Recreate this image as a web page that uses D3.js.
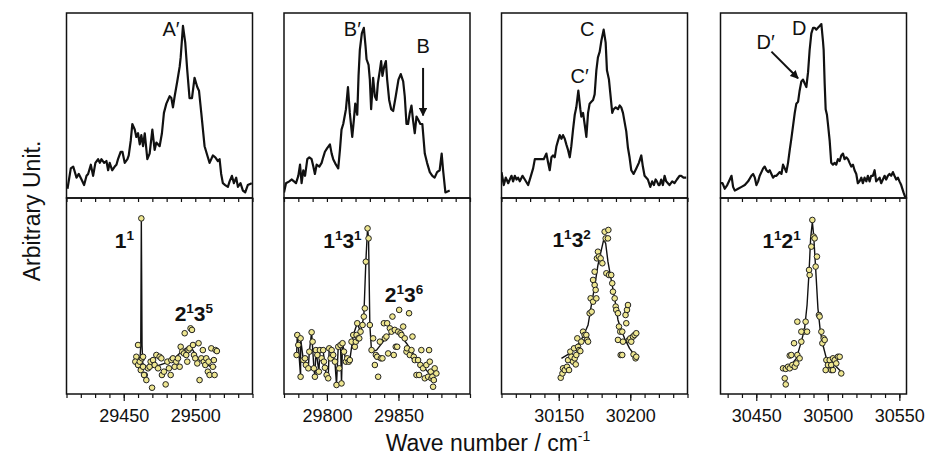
<!DOCTYPE html>
<html>
<head>
<meta charset="utf-8">
<script src="https://cdn.jsdelivr.net/npm/d3@7"></script>
<style>
  html, body { margin: 0; padding: 0; background: #ffffff; }
  svg { display: block; }
  text { font-family: "Liberation Sans", Arial, Helvetica, sans-serif; fill: #111; }
</style>
</head>
<body>
<svg id="chart" width="927" height="460"></svg>
<script>
// ---------------- DATA ----------------
// Wave-number windows of the four columns (cm^-1)
const xDomains = [[29410, 29540], [29770, 29900], [30110, 30240], [30425, 30555]];
// Labelled tick values per column
const tickLabels = [[29450, 29500], [29800, 29850], [30150, 30200], [30450, 30500, 30550]];

// Top row: measured spectra [wave number, intensity]
const specA = [[29410.7,5],[29413.0,16],[29414.7,17],[29417.0,11],[29418.6,13],[29420.5,10],[29422.3,7],[29424.0,12],[29425.1,13],[29427.0,18],[29428.6,12],[29430.2,19],[29432.1,21],[29433.3,19],[29434.4,21],[29436.3,19],[29437.9,20],[29439.1,15],[29440.2,19],[29441.9,15],[29443.7,17],[29444.9,18],[29446.0,21],[29447.9,25],[29449.1,25],[29450.7,19],[29452.6,21],[29453.5,23],[29454.9,31],[29456.0,40],[29457.7,37],[29458.8,33],[29460.0,35],[29461.2,29],[29462.3,34],[29463.5,28],[29464.7,35],[29466.5,21],[29468.1,24],[29470.0,37],[29471.6,26],[29472.8,30],[29475.1,28],[29476.7,35],[29478.1,46],[29479.8,51],[29482.1,55],[29483.3,54],[29484.4,49],[29485.6,55],[29487.4,63],[29489.1,71],[29489.8,76],[29491.4,93],[29493.0,84],[29494.4,69],[29496.0,54],[29497.7,54],[29499.5,65],[29501.4,60],[29502.6,58],[29504.2,46],[29506.5,28],[29508.8,22],[29510.0,19],[29512.3,23],[29514.0,22],[29515.8,20],[29517.0,21],[29518.1,13],[29519.3,8],[29520.9,7],[29522.8,6],[29524.0,9],[29525.6,12],[29527.0,8],[29528.6,11],[29529.8,6],[29531.6,8],[29533.3,4],[29534.9,3],[29536.7,7],[29539.5,8]];
const specB = [[29770.0,3],[29771.4,8],[29773.7,9],[29775.3,10],[29777.0,9],[29778.4,8],[29780.0,12],[29781.2,18],[29782.3,8],[29783.5,15],[29784.7,12],[29786.3,21],[29787.7,22],[29789.3,21],[29790.5,17],[29791.6,13],[29792.8,18],[29794.7,17],[29796.3,19],[29797.4,22],[29798.6,25],[29800.2,27],[29802.1,29],[29803.3,24],[29804.4,21],[29806.3,18],[29807.9,16],[29809.1,26],[29810.2,37],[29811.4,40],[29813.3,48],[29814.7,60],[29816.0,46],[29817.7,33],[29818.8,42],[29819.8,51],[29821.2,45],[29822.1,66],[29823.0,80],[29824.4,89],[29825.8,92],[29827.0,82],[29827.7,75],[29829.1,72],[29830.0,64],[29830.9,48],[29832.3,65],[29833.5,55],[29834.7,53],[29835.6,62],[29837.0,69],[29837.9,74],[29838.8,66],[29840.0,71],[29841.2,74],[29842.1,64],[29843.5,53],[29844.9,48],[29846.3,47],[29848.1,55],[29850.0,64],[29851.6,67],[29853.3,63],[29854.4,55],[29855.6,40],[29856.7,40],[29857.9,46],[29859.1,50],[29860.2,42],[29861.4,35],[29862.6,44],[29864.0,42],[29865.3,40],[29866.7,40],[29868.4,24],[29870.0,19],[29871.9,14],[29873.7,12],[29875.3,11],[29877.0,14],[29878.8,15],[29880.2,24],[29881.2,15],[29882.8,3],[29885.8,4]];
const specC = [[30110.0,14],[30111.6,7],[30113.0,11],[30114.7,8],[30115.8,10],[30117.0,12],[30118.1,9],[30119.3,12],[30120.5,10],[30121.6,11],[30122.8,9],[30124.7,12],[30126.3,10],[30128.6,7],[30130.2,11],[30132.1,16],[30133.3,21],[30135.6,21],[30137.9,21],[30139.5,21],[30141.4,24],[30142.6,19],[30143.7,15],[30144.9,22],[30146.0,23],[30147.2,22],[30148.4,28],[30149.5,31],[30150.7,34],[30151.9,32],[30153.0,34],[30154.2,32],[30155.3,29],[30156.5,26],[30157.7,22],[30158.8,28],[30160.0,37],[30161.2,45],[30162.3,49],[30163.7,58],[30165.1,48],[30165.8,44],[30167.0,46],[30168.1,40],[30169.3,33],[30170.5,46],[30171.6,51],[30172.8,52],[30174.0,53],[30175.1,56],[30176.3,69],[30177.4,76],[30178.6,79],[30179.8,85],[30181.4,91],[30182.8,84],[30183.7,69],[30185.1,64],[30186.0,57],[30187.4,46],[30188.4,48],[30189.8,49],[30191.4,48],[30192.6,50],[30193.7,49],[30194.9,46],[30197.2,36],[30198.4,27],[30199.5,22],[30200.7,15],[30202.3,13],[30204.2,16],[30206.0,19],[30207.7,23],[30208.8,17],[30210.0,12],[30212.3,10],[30214.0,6],[30215.3,9],[30216.5,7],[30217.7,10],[30218.6,9],[30219.8,7],[30220.5,7],[30221.6,10],[30222.8,7],[30224.0,12],[30225.1,9],[30226.3,8],[30227.4,7],[30229.3,9],[30230.9,8],[30232.6,10],[30234.4,12],[30235.6,12],[30237.2,11],[30239.1,11]];
const specD = [[30425.0,8],[30426.4,8],[30428.0,5],[30429.7,7],[30431.5,10],[30432.7,12],[30433.8,6],[30435.0,4],[30437.3,5],[30439.7,6],[30442.0,7],[30444.3,9],[30446.6,12],[30447.8,13],[30449.0,11],[30450.1,7],[30451.3,9],[30452.4,12],[30453.6,14],[30454.8,16],[30455.9,17],[30457.1,15],[30458.3,14],[30459.4,15],[30460.6,13],[30461.7,11],[30462.9,12],[30464.1,12],[30465.2,13],[30466.4,14],[30467.6,13],[30468.7,18],[30469.9,16],[30471.0,14],[30472.2,19],[30473.4,26],[30474.5,32],[30475.7,39],[30476.9,46],[30478.0,51],[30479.2,52],[30480.3,58],[30481.5,63],[30482.7,64],[30483.8,62],[30485.0,60],[30486.2,68],[30487.3,80],[30488.5,89],[30489.7,92],[30490.8,92],[30492.0,91],[30493.1,92],[30494.3,93],[30495.5,94],[30496.6,85],[30497.1,80],[30497.8,62],[30498.5,48],[30499.4,45],[30500.1,40],[30501.3,31],[30502.4,19],[30503.6,18],[30504.8,19],[30505.9,18],[30507.1,21],[30508.3,20],[30509.4,23],[30510.6,24],[30511.7,21],[30512.9,22],[30514.1,21],[30515.2,19],[30516.4,17],[30517.6,18],[30518.7,15],[30519.9,13],[30521.0,8],[30522.2,9],[30523.4,11],[30524.5,8],[30525.7,11],[30526.9,9],[30528.0,12],[30529.2,9],[30530.3,12],[30531.5,12],[30532.7,15],[30533.8,9],[30535.0,10],[30536.2,11],[30537.3,8],[30538.5,10],[30539.7,12],[30540.8,10],[30542.0,12],[30543.1,13],[30544.3,12],[30545.5,14],[30546.6,12],[30547.8,10],[30549.0,11],[30550.1,9],[30551.3,7],[30552.9,3],[30554.1,0.5]];

// Bottom row: measured points [wave number, intensity]
const ptsA = [[29462.3,89.6],[29460.0,25.0],[29458.8,19.0],[29458.1,16.5],[29460.0,14.8],[29461.2,16.5],[29462.8,18.2],[29463.5,19.0],[29461.9,12.2],[29463.5,13.9],[29464.7,9.7],[29465.8,7.1],[29464.2,9.7],[29467.0,13.1],[29468.1,13.9],[29469.8,3.2],[29468.8,16.5],[29470.5,17.3],[29471.6,14.8],[29472.8,19.9],[29474.0,13.1],[29475.1,19.0],[29476.3,18.2],[29476.7,9.7],[29478.1,11.4],[29479.3,4.9],[29480.5,16.5],[29481.6,13.1],[29482.8,9.7],[29483.3,17.3],[29484.4,18.2],[29485.6,13.9],[29486.7,16.5],[29487.9,18.2],[29489.1,13.9],[29489.8,24.1],[29490.9,21.6],[29492.6,31.0],[29492.1,20.7],[29493.7,19.9],[29494.4,16.5],[29495.3,22.4],[29496.0,23.3],[29496.7,33.5],[29497.7,32.7],[29498.4,25.0],[29499.1,19.9],[29500.0,18.2],[29501.4,15.6],[29502.3,25.9],[29503.0,7.1],[29504.2,18.2],[29505.3,22.4],[29506.0,16.5],[29507.0,14.8],[29507.7,18.2],[29508.8,11.4],[29509.3,16.5],[29510.0,9.7],[29511.2,23.3],[29512.3,13.9],[29513.0,17.3],[29513.5,9.7],[29514.2,22.4],[29515.1,21.9]];
const ptsB = [[29779.3,30.1],[29778.8,19.9],[29780.0,25.0],[29781.6,28.4],[29781.6,8.8],[29783.5,17.3],[29784.7,18.2],[29785.3,14.8],[29787.0,13.1],[29787.7,21.6],[29789.3,31.5],[29790.0,26.7],[29790.9,13.1],[29791.6,8.8],[29792.3,22.4],[29793.3,19.9],[29794.4,11.4],[29795.1,22.4],[29796.3,18.2],[29797.4,22.4],[29797.9,16.5],[29798.6,13.4],[29799.8,9.7],[29800.9,8.0],[29801.6,23.3],[29802.6,18.2],[29803.3,22.4],[29804.4,19.9],[29805.6,16.5],[29806.7,4.6],[29807.9,24.1],[29808.6,13.1],[29809.5,25.0],[29810.2,5.4],[29810.9,25.9],[29811.9,21.6],[29813.3,16.5],[29814.2,18.2],[29815.3,16.5],[29816.0,17.3],[29817.2,26.7],[29818.4,30.1],[29819.5,24.1],[29820.2,26.7],[29820.7,30.1],[29821.2,36.1],[29821.9,28.4],[29822.6,28.4],[29823.5,31.8],[29824.9,35.2],[29825.8,39.5],[29826.5,43.7],[29827.2,67.5],[29828.4,84.5],[29829.1,79.4],[29830.0,35.2],[29831.2,22.4],[29832.3,28.4],[29833.5,14.8],[29834.2,19.9],[29835.1,19.0],[29835.8,8.8],[29837.0,26.7],[29837.7,18.2],[29838.8,18.2],[29839.8,36.1],[29840.5,28.4],[29841.6,29.3],[29842.1,36.1],[29842.8,20.7],[29844.0,33.5],[29845.1,31.8],[29845.8,39.5],[29846.7,19.9],[29847.4,32.7],[29848.1,24.1],[29849.1,24.1],[29849.8,31.8],[29850.5,42.9],[29851.4,31.0],[29852.1,30.1],[29853.3,34.4],[29854.4,28.4],[29855.6,21.6],[29856.0,23.3],[29857.4,41.2],[29857.9,19.9],[29859.1,22.4],[29859.8,29.3],[29860.7,19.0],[29861.4,17.3],[29862.6,9.7],[29863.7,17.3],[29864.4,9.7],[29865.3,14.8],[29866.0,22.4],[29867.2,13.1],[29868.4,8.0],[29869.5,14.8],[29870.7,8.8],[29871.4,22.4],[29871.9,16.5],[29872.6,11.4],[29873.0,8.0],[29873.7,8.8],[29874.2,3.7],[29874.7,7.1],[29875.3,13.1],[29876.5,10.5]];
const ptsC = [[30151.4,8.3],[30152.6,10.5],[30153.0,13.1],[30154.2,12.2],[30155.8,13.9],[30156.5,17.3],[30157.2,12.2],[30158.1,21.6],[30158.8,19.0],[30160.0,16.5],[30160.7,23.3],[30161.2,18.2],[30161.9,15.1],[30162.3,19.9],[30163.0,28.4],[30163.5,24.1],[30164.2,22.4],[30165.1,21.9],[30165.8,26.7],[30167.0,31.8],[30168.1,30.1],[30169.3,30.1],[30169.8,27.6],[30170.5,26.7],[30171.6,41.2],[30172.3,48.8],[30173.0,42.0],[30174.0,47.1],[30175.1,55.6],[30175.8,53.1],[30176.3,48.8],[30174.0,58.2],[30175.1,62.4],[30176.7,69.2],[30177.4,72.6],[30178.1,70.1],[30179.3,69.2],[30180.5,66.7],[30182.1,82.8],[30182.8,79.4],[30184.7,83.7],[30184.4,79.4],[30183.3,61.6],[30185.1,60.7],[30186.7,60.7],[30187.4,56.5],[30187.9,52.2],[30189.1,48.8],[30189.8,44.6],[30190.2,42.9],[30191.4,41.2],[30192.1,34.4],[30193.0,31.8],[30194.4,31.8],[30191.4,27.6],[30196.7,40.3],[30197.7,42.9],[30198.4,45.4],[30197.2,36.1],[30199.1,27.6],[30200.0,28.4],[30200.7,26.7],[30201.9,29.3],[30203.0,30.1],[30204.2,31.0],[30202.3,20.2],[30203.7,18.2],[30204.2,19.0],[30193.3,19.9],[30194.4,19.9],[30194.9,26.7]];
const ptsD = [[30468.7,13.1],[30470.6,12.8],[30472.2,13.9],[30473.4,13.1],[30475.2,14.8],[30476.9,13.9],[30478.0,15.6],[30478.7,19.9],[30480.3,18.2],[30481.5,26.7],[30483.1,31.8],[30484.5,36.9],[30485.5,31.8],[30487.3,60.7],[30486.9,63.3],[30488.5,75.2],[30489.2,88.8],[30490.1,80.3],[30490.8,79.4],[30491.5,65.0],[30492.4,70.1],[30493.8,40.3],[30494.3,39.5],[30495.5,31.8],[30496.2,25.9],[30497.1,28.4],[30497.8,27.6],[30499.0,17.3],[30500.1,14.8],[30501.3,17.3],[30502.4,14.8],[30503.6,18.2],[30504.8,17.3],[30505.9,15.6],[30507.1,19.0],[30508.3,19.0],[30509.4,10.5],[30469.9,8.0],[30470.6,4.9],[30473.4,19.6],[30474.5,19.9],[30476.4,25.9],[30478.7,36.9],[30481.5,31.8],[30498.5,12.2],[30502.4,12.2],[30503.6,12.2]];

// Bottom row: fitted / guide lines [wave number, intensity]
const fitA = [[29458.8,16.5],[29461.2,15.6],[29461.9,25],[29462.3,89.6],[29462.8,25],[29463.3,15.6],[29467.0,13.1],[29471.6,13.9],[29478.6,15.6],[29485.6,18.2],[29490.2,21.6],[29494.9,24.1],[29497.2,23.6],[29501.9,18.2],[29506.5,15.6],[29511.2,13.9],[29514.7,13.9]];
const fitB = [[29778.8,19.9],[29779.3,30.1],[29780.0,25.0],[29781.6,8.8],[29781.6,28.4],[29783.5,17.3],[29785.3,14.8],[29787.0,13.1],[29787.7,21.6],[29789.3,31.5],[29790.9,13.1],[29791.6,8.8],[29792.3,22.4],[29794.4,11.4],[29795.1,22.4],[29797.4,22.4],[29798.6,13.4],[29799.8,9.7],[29800.9,8.0],[29801.6,23.3],[29803.3,22.4],[29805.6,16.5],[29806.7,4.6],[29807.9,24.1],[29809.5,25.0],[29810.2,5.4],[29810.9,25.9],[29813.3,16.5],[29816.0,17.3],[29818.4,30.1],[29821.2,36.1],[29823.5,31.8],[29825.8,39.5],[29827.2,67.5],[29828.4,84.5],[29829.1,79.4],[29830.0,35.2],[29831.2,21.6],[29834.7,22.4],[29839.3,26.7],[29844.0,31.0],[29847.4,32.1],[29850.9,30.4],[29855.6,25.9],[29860.2,20.7],[29864.9,16.5],[29869.5,12.2],[29874.2,8.0],[29876.5,6.3]];
const fitC = [[30151.9,18.2],[30157.7,20.7],[30162.3,24.1],[30167.0,29.3],[30170.5,35.2],[30172.8,45.4],[30175.1,54.8],[30177.4,65.8],[30179.8,73.5],[30181.4,78.6],[30182.8,76.9],[30184.4,67.5],[30186.7,58.2],[30189.1,48.8],[30191.4,37.8],[30193.7,32.7],[30196.0,28.4],[30199.5,23.3],[30203.0,19.9],[30205.3,18.2]];
const fitD = [[30468.3,12.2],[30473.4,13.9],[30478.0,18.2],[30481.5,26.7],[30483.8,33.5],[30485.5,45.4],[30486.9,62.4],[30488.0,79.4],[30489.2,87.9],[30490.1,81.1],[30491.5,64.1],[30493.1,43.7],[30494.8,31.8],[30496.6,25.0],[30499.0,18.2],[30502.4,15.6],[30505.9,13.9],[30509.4,11.4]];

// Annotations: [column, wave number, intensity, text]
const topLabels = [[0,29483,87.6,"A\u2032"],[1,29817.8,87.6,"B\u2032"],[1,29867.2,78.5,"B"],[2,30169.9,87.6,"C"],[2,30164.6,62.0,"C\u2032"],[3,30480.1,88.1,"D"],[3,30456.5,80.4,"D\u2032"]];
// Arrows: [column, wave start, int start, wave end, int end]
const topArrows = [[1,29867.2,70.3,29867.2,44.6],[3,30460.6,79.1,30479.2,64.7]];
// Bottom band labels: [column, wave (left), intensity (baseline), [[base, sup], ...]]
const bandLabels = [
  [0,29443.7,74.5,[["1","1"]]],
  [0,29485.6,37.2,[["2","1"],["3","5"]]],
  [1,29797.4,74.3,[["1","1"],["3","1"]]],
  [1,29840.5,47.1,[["2","1"],["3","6"]]],
  [2,30145.6,75.2,[["1","1"],["3","2"]]],
  [3,30454.3,74.3,[["1","1"],["2","1"]]]
];

const spectra = [specA, specB, specC, specD];
const points = [ptsA, ptsB, ptsC, ptsD];
const fits = [fitA, fitB, fitC, fitD];

// ---------------- LAYOUT ----------------
const svg = d3.select("#chart");
const panelLeft = [66.5, 284, 501.5, 720.5];
const panelW = 186;
const yTopEdge = 13, yMid = 198, yBottom = 394;

const yTop = d3.scaleLinear().domain([0, 100]).range([yMid, yTopEdge]);
const yBot = d3.scaleLinear().domain([0, 100]).range([yBottom, yMid]);

svg.append("defs").append("marker")
  .attr("id", "arrowhead").attr("viewBox", "0 0 10 10")
  .attr("refX", 9).attr("refY", 5)
  .attr("markerWidth", 4.2).attr("markerHeight", 4.2)
  .attr("markerUnits", "strokeWidth")
  .attr("orient", "auto")
  .append("path").attr("d", "M0,0L10,5L0,10Z").attr("fill", "#111");

xDomains.forEach((dom, i) => {
  const x = d3.scaleLinear().domain(dom).range([panelLeft[i], panelLeft[i] + panelW]);
  const g = svg.append("g");

  const minor = d3.range(Math.ceil(dom[0] / 10) * 10, dom[1] + 0.01, 10);

  const axMinor = g.append("g").attr("transform", `translate(0,${yBottom})`)
    .call(d3.axisBottom(x).tickValues(minor).tickSize(4).tickFormat(""));
  const axMajor = g.append("g").attr("transform", `translate(0,${yBottom})`)
    .call(d3.axisBottom(x).tickValues(tickLabels[i]).tickSize(7).tickPadding(8).tickFormat(d3.format("d")));
  const axMid = g.append("g").attr("transform", `translate(0,${yMid})`)
    .call(d3.axisBottom(x).tickValues(minor).tickSize(4).tickFormat(""));
  // remove the empty label nodes of unlabeled tick sets
  axMinor.selectAll(".tick text").remove();
  axMid.selectAll(".tick text").remove();
  [axMinor, axMajor, axMid].forEach(a => {
    a.select(".domain").remove();
    a.selectAll(".tick line").attr("stroke", "#111").attr("stroke-width", 1.2);
  });
  axMajor.selectAll(".tick text")
    .attr("font-size", 18)
    .attr("font-family", '"Liberation Sans", Arial, Helvetica, sans-serif')
    .attr("fill", "#111");

  const clipId = "clip" + i;
  svg.append("clipPath").attr("id", clipId).append("rect")
    .attr("x", panelLeft[i]).attr("y", yTopEdge).attr("width", panelW).attr("height", yBottom - yTopEdge);

  g.append("path").datum(spectra[i])
    .attr("clip-path", `url(#${clipId})`)
    .attr("fill", "none").attr("stroke", "#111").attr("stroke-width", 2.2)
    .attr("stroke-linejoin", "round")
    .attr("d", d3.line().x(d => x(d[0])).y(d => yTop(d[1])));

  g.append("path").datum(fits[i])
    .attr("clip-path", `url(#${clipId})`)
    .attr("fill", "none").attr("stroke", "#111").attr("stroke-width", 1.4)
    .attr("stroke-linejoin", "round")
    .attr("d", d3.line().x(d => x(d[0])).y(d => yBot(d[1])));

  g.append("g").selectAll("circle").data(points[i]).join("circle")
    .attr("cx", d => x(d[0])).attr("cy", d => yBot(d[1])).attr("r", 2.8)
    .attr("fill", "#eee690").attr("stroke", "#222").attr("stroke-width", 1);

  g.append("rect").attr("x", panelLeft[i]).attr("y", yTopEdge)
    .attr("width", panelW).attr("height", yMid - yTopEdge)
    .attr("fill", "none").attr("stroke", "#111").attr("stroke-width", 1.5);
  g.append("rect").attr("x", panelLeft[i]).attr("y", yMid)
    .attr("width", panelW).attr("height", yBottom - yMid)
    .attr("fill", "none").attr("stroke", "#111").attr("stroke-width", 1.5);

  topLabels.filter(l => l[0] === i).forEach(l => {
    g.append("text").attr("x", x(l[1])).attr("y", yTop(l[2]))
      .attr("text-anchor", "middle").attr("font-size", 20).text(l[3]);
  });
  topArrows.filter(a => a[0] === i).forEach(a => {
    g.append("line")
      .attr("x1", x(a[1])).attr("y1", yTop(a[2]))
      .attr("x2", x(a[3])).attr("y2", yTop(a[4]))
      .attr("stroke", "#111").attr("stroke-width", 2)
      .attr("marker-end", "url(#arrowhead)");
  });

  bandLabels.filter(l => l[0] === i).forEach(l => {
    const t = g.append("text").attr("x", x(l[1])).attr("y", yBot(l[2]))
      .attr("font-size", 21).attr("font-weight", "bold");
    l[3].forEach(([b, s], j) => {
      t.append("tspan").attr("font-size", 21).attr("dy", j > 0 ? 8 : 0).text(b);
      t.append("tspan").attr("font-size", 13.5).attr("dy", -8).text(s);
    });
  });
});

const xt = svg.append("text").attr("x", 488).attr("y", 451)
  .attr("text-anchor", "middle").attr("font-size", 23);
xt.append("tspan").text("Wave number / cm");
xt.append("tspan").attr("font-size", 14).attr("dy", -10).text("-1");

svg.append("text")
  .attr("transform", "translate(40,211) rotate(-90)")
  .attr("text-anchor", "middle").attr("font-size", 23)
  .text("Arbitrary Unit.");
</script>
</body>
</html>
